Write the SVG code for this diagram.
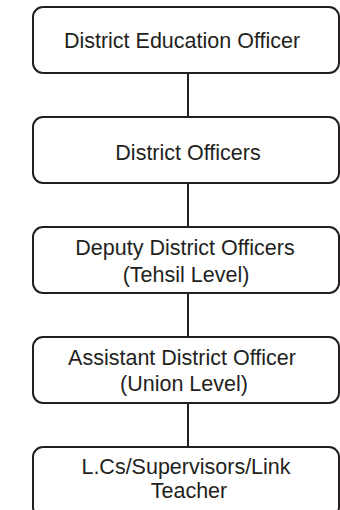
<svg xmlns="http://www.w3.org/2000/svg" width="340" height="510" viewBox="0 0 340 510">
<style>
.box{fill:#fff;stroke:#231f20;stroke-width:2}
.lbl{font-family:"Liberation Sans",Arial,sans-serif;font-size:21.5px;fill:#231f20;text-anchor:middle}
.con{stroke:#231f20;stroke-width:2;fill:none}
</style>
<rect width="340" height="510" fill="#fff"/>
<g id="connectors">
<line class="con" x1="188" y1="73" x2="188" y2="117"/>
<line class="con" x1="188" y1="183" x2="188" y2="227"/>
<line class="con" x1="188" y1="293" x2="188" y2="337"/>
<line class="con" x1="188" y1="403" x2="188" y2="447"/>
</g>
<g id="n1"><rect class="box" x="33" y="7" width="306" height="66" rx="10"/><text class="lbl" x="182" y="48">District Education Officer</text></g>
<g id="n2"><rect class="box" x="33" y="117" width="306" height="66" rx="10"/><text class="lbl" x="188" y="160">District Officers</text></g>
<g id="n3"><rect class="box" x="33" y="227" width="306" height="66" rx="10"/><text class="lbl" x="185" y="255">Deputy District Officers</text><text class="lbl" x="186" y="282">(Tehsil Level)</text></g>
<g id="n4"><rect class="box" x="33" y="337" width="306" height="66" rx="10"/><text class="lbl" x="182" y="365">Assistant District Officer</text><text class="lbl" x="184" y="391">(Union Level)</text></g>
<g id="n5"><rect class="box" x="33" y="447" width="306" height="70" rx="10"/><text class="lbl" x="186" y="474">L.Cs/Supervisors/Link</text><text class="lbl" x="189" y="498">Teacher</text></g>
</svg>
